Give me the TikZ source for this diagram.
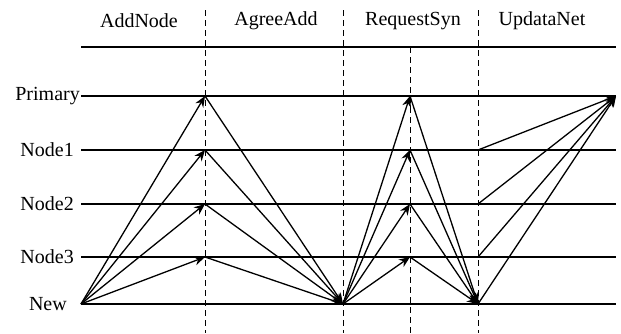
\documentclass[tikz,border=0pt]{standalone}
\usepackage{fontspec}
\setmainfont{Liberation Serif}
\usetikzlibrary{arrows.meta}
\begin{document}
\begin{tikzpicture}[x=1pt,y=-1pt,
  lane/.style={line width=1.1pt},
  phase/.style={line width=1pt,dash pattern=on 6pt off 4pt},
  msg/.style={line width=1.3pt,-{Stealth[length=11pt,width=9pt]}},
  lbl/.style={font=\fontsize{20}{22}\selectfont,inner sep=0pt},
  hdr/.style={font=\fontsize{20}{22}\selectfont,inner sep=0pt}]
\useasboundingbox (0,0) rectangle (621,333);

% phase headers
\node[hdr] (hA) at (139,21) {AddNode};
\node[hdr] (hB) at (276,21) {AgreeAdd};
\node[hdr] (hC) at (413,21) {RequestSyn};
\node[hdr] (hD) at (542,21) {UpdataNet};

% row labels
\node[lbl,anchor=east] (lP) at (80,96) {Primary};
\node[lbl,anchor=east] (l1) at (74,150) {Node1};
\node[lbl,anchor=east] (l2) at (74,204) {Node2};
\node[lbl,anchor=east] (l3) at (74,257) {Node3};
\node[lbl,anchor=east] (lN) at (67,304) {New};

% lane end points
\coordinate (top0) at (81,47);  \coordinate (top1) at (616,47);
\coordinate (P0) at (81,96);    \coordinate (P1) at (616,96);
\coordinate (A0) at (81,150);   \coordinate (A1) at (616,150);
\coordinate (B0) at (81,204);   \coordinate (B1) at (616,204);
\coordinate (C0) at (81,257);   \coordinate (C1) at (616,257);
\coordinate (N0) at (81,304);   \coordinate (N1) at (616,304);

\foreach \a/\b in {top0/top1,P0/P1,A0/A1,B0/B1,C0/C1,N0/N1}
  \draw[lane] (\a) -- (\b);

% phase separators
\coordinate (d1t) at (205,10);  \coordinate (d1b) at (205,333);
\coordinate (d2t) at (343,10);  \coordinate (d2b) at (343,333);
\coordinate (d3t) at (478,10);  \coordinate (d3b) at (478,333);
\coordinate (d4t) at (410,47);  \coordinate (d4b) at (410,333);
\foreach \a/\b in {d1t/d1b,d2t/d2b,d3t/d3b,d4t/d4b}
  \draw[phase] (\a) -- (\b);

% message points
\coordinate (p1) at (205,96);  \coordinate (p2) at (205,150);
\coordinate (p3) at (205,204); \coordinate (p4) at (205,257);
\coordinate (m) at (343,304);
\coordinate (q1) at (410,96);  \coordinate (q2) at (410,150);
\coordinate (q3) at (410,204); \coordinate (q4) at (410,257);
\coordinate (r) at (478,304);
\coordinate (s1) at (478,150); \coordinate (s2) at (478,204);
\coordinate (s3) at (478,257);
\coordinate (t) at (616,96);

% AddNode: New to every member
\foreach \x in {p1,p2,p3,p4} \draw[msg] (N0) -- (\x);
% AgreeAdd: every member answers New
\foreach \x in {p1,p2,p3,p4} \draw[msg] (\x) -- (m);
% RequestSyn
\foreach \x in {q1,q2,q3,q4} \draw[msg] (m) -- (\x);
\foreach \x in {q1,q2,q3,q4} \draw[msg] (\x) -- (r);
% UpdataNet
\foreach \x in {r,s3,s2,s1} \draw[msg] (\x) -- (t);
\end{tikzpicture}
\end{document}
